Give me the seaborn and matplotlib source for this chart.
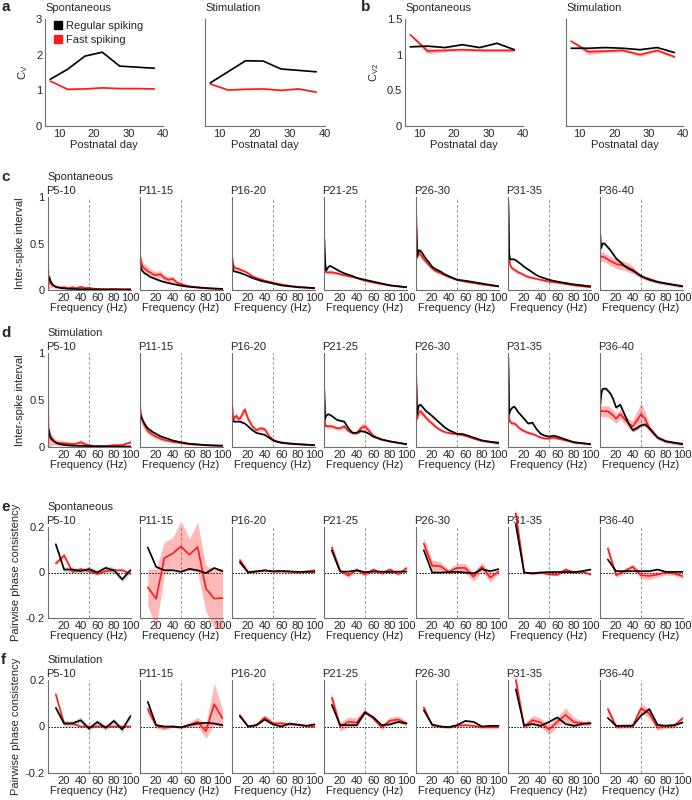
import numpy as np
import pandas as pd
import matplotlib
matplotlib.use("Agg")
import matplotlib.pyplot as plt
from matplotlib.lines import Line2D
import seaborn as sns

# ------------------------------------------------------------------ data
DAYS = [7.5, 12.5, 17.5, 22.5, 27.5, 32.5, 37.5]

CV_SPONT_RS = [1.31, 1.59, 1.96, 2.07, 1.68, 1.65, 1.62]
CV_SPONT_FS = [1.26, 1.03, 1.04, 1.07, 1.05, 1.05, 1.04]
CV_STIM_RS = [1.21, 1.52, 1.83, 1.82, 1.60, 1.56, 1.52]
CV_STIM_FS = [1.18, 1.01, 1.03, 1.04, 1.00, 1.04, 0.95]
CV_FS_SEM = [0.01, 0.03, 0.02, 0.02, 0.02, 0.02, 0.02]

CV2_SPONT_RS = [1.11, 1.12, 1.10, 1.14, 1.10, 1.16, 1.07]
CV2_SPONT_FS = [1.28, 1.05, 1.06, 1.07, 1.06, 1.06, 1.06]
CV2_STIM_RS = [1.09, 1.09, 1.10, 1.09, 1.07, 1.10, 1.03]
CV2_STIM_FS = [1.19, 1.04, 1.05, 1.06, 1.00, 1.06, 0.97]
CV2_FS_SEM = [0.01, 0.04, 0.02, 0.02, 0.02, 0.02, 0.02]

AGE_GROUPS = ["P5-10", "P11-15", "P16-20", "P21-25", "P26-30", "P31-35", "P36-40"]

ISI_FREQ = [1, 2, 3, 4, 6, 8, 10, 13, 16, 20, 25, 30, 35, 40, 45, 50, 55, 60, 70, 80, 90, 100]

ISI_SPONT_RS = [
    [0.12, 0.14, 0.11, 0.09, 0.06, 0.045, 0.035, 0.028, 0.022, 0.018, 0.014, 0.012, 0.01, 0.009, 0.008, 0.007, 0.006, 0.006, 0.005, 0.005, 0.004, 0.004],
    [0.27, 0.24, 0.21, 0.2, 0.18, 0.17, 0.16, 0.14, 0.13, 0.115, 0.1, 0.085, 0.075, 0.065, 0.055, 0.048, 0.04, 0.035, 0.027, 0.02, 0.015, 0.012],
    [0.27, 0.22, 0.2, 0.2, 0.195, 0.19, 0.185, 0.175, 0.165, 0.15, 0.13, 0.115, 0.1, 0.09, 0.08, 0.07, 0.06, 0.05, 0.04, 0.03, 0.025, 0.02],
    [0.55, 0.3, 0.21, 0.22, 0.25, 0.26, 0.25, 0.235, 0.22, 0.2, 0.18, 0.165, 0.15, 0.13, 0.12, 0.11, 0.1, 0.09, 0.07, 0.05, 0.04, 0.03],
    [0.68, 0.36, 0.4, 0.43, 0.42, 0.4, 0.37, 0.33, 0.3, 0.25, 0.22, 0.2, 0.17, 0.15, 0.13, 0.11, 0.105, 0.1, 0.085, 0.07, 0.055, 0.04],
    [0.95, 0.4, 0.33, 0.33, 0.33, 0.33, 0.32, 0.3, 0.28, 0.25, 0.22, 0.19, 0.16, 0.14, 0.125, 0.11, 0.1, 0.09, 0.075, 0.06, 0.05, 0.04],
    [0.6, 0.45, 0.48, 0.5, 0.5, 0.48, 0.46, 0.43, 0.39, 0.34, 0.3, 0.26, 0.23, 0.21, 0.18, 0.15, 0.13, 0.11, 0.085, 0.07, 0.055, 0.04],
]
ISI_SPONT_FS = [
    [0.06, 0.12, 0.09, 0.07, 0.05, 0.04, 0.035, 0.03, 0.025, 0.03, 0.02, 0.03, 0.02, 0.035, 0.02, 0.025, 0.015, 0.012, 0.01, 0.012, 0.01, 0.01],
    [0.35, 0.3, 0.27, 0.25, 0.23, 0.22, 0.2, 0.19, 0.17, 0.16, 0.17, 0.13, 0.11, 0.12, 0.08, 0.065, 0.05, 0.04, 0.03, 0.022, 0.016, 0.012],
    [0.35, 0.28, 0.25, 0.24, 0.23, 0.23, 0.22, 0.21, 0.2, 0.18, 0.15, 0.13, 0.115, 0.1, 0.09, 0.08, 0.07, 0.06, 0.045, 0.035, 0.028, 0.022],
    [0.45, 0.25, 0.19, 0.19, 0.19, 0.19, 0.19, 0.185, 0.18, 0.17, 0.16, 0.15, 0.14, 0.13, 0.115, 0.1, 0.09, 0.08, 0.065, 0.05, 0.04, 0.03],
    [0.8, 0.35, 0.38, 0.4, 0.38, 0.36, 0.33, 0.3, 0.27, 0.23, 0.2, 0.18, 0.16, 0.14, 0.125, 0.11, 0.1, 0.09, 0.075, 0.06, 0.05, 0.04],
    [0.9, 0.35, 0.28, 0.25, 0.23, 0.22, 0.21, 0.19, 0.18, 0.16, 0.14, 0.13, 0.12, 0.11, 0.1, 0.09, 0.085, 0.08, 0.065, 0.05, 0.04, 0.03],
    [0.35, 0.36, 0.36, 0.36, 0.35, 0.34, 0.33, 0.31, 0.3, 0.28, 0.27, 0.26, 0.24, 0.22, 0.18, 0.15, 0.13, 0.12, 0.09, 0.07, 0.055, 0.04],
]
ISI_SPONT_FS_SEM = [
    [0.15, 0.1, 0.06, 0.04, 0.03, 0.02, 0.02, 0.015, 0.015, 0.015, 0.01, 0.015, 0.01, 0.015, 0.01, 0.01, 0.008, 0.006, 0.005, 0.005, 0.005, 0.005],
    [0.07, 0.06, 0.06, 0.05, 0.05, 0.05, 0.05, 0.04, 0.04, 0.04, 0.04, 0.03, 0.03, 0.03, 0.02, 0.02, 0.015, 0.01, 0.01, 0.008, 0.006, 0.005],
    [0.03, 0.02, 0.02, 0.02, 0.02, 0.02, 0.02, 0.015, 0.015, 0.015, 0.01, 0.01, 0.01, 0.01, 0.01, 0.008, 0.008, 0.006, 0.005, 0.005, 0.004, 0.004],
    [0.05, 0.03, 0.02, 0.02, 0.02, 0.02, 0.02, 0.02, 0.015, 0.015, 0.015, 0.01, 0.01, 0.01, 0.01, 0.01, 0.008, 0.008, 0.006, 0.005, 0.005, 0.004],
    [0.08, 0.04, 0.03, 0.03, 0.03, 0.03, 0.025, 0.02, 0.02, 0.015, 0.015, 0.01, 0.01, 0.01, 0.01, 0.01, 0.008, 0.008, 0.006, 0.005, 0.005, 0.004],
    [0.05, 0.03, 0.02, 0.02, 0.02, 0.02, 0.02, 0.02, 0.015, 0.015, 0.015, 0.01, 0.01, 0.01, 0.01, 0.01, 0.008, 0.008, 0.006, 0.005, 0.005, 0.004],
    [0.05, 0.05, 0.05, 0.05, 0.05, 0.05, 0.05, 0.05, 0.05, 0.05, 0.05, 0.05, 0.05, 0.04, 0.03, 0.02, 0.02, 0.015, 0.01, 0.01, 0.008, 0.006],
]
ISI_SPONT_RS_SEM = [0.01, 0.008, 0.008, 0.01, 0.012, 0.012, 0.02]

ISI_STIM_RS = [
    [0.2, 0.16, 0.12, 0.1, 0.08, 0.06, 0.045, 0.035, 0.03, 0.022, 0.018, 0.015, 0.013, 0.012, 0.011, 0.01, 0.008, 0.007, 0.006, 0.005, 0.005, 0.005],
    [0.35, 0.32, 0.3, 0.28, 0.25, 0.22, 0.2, 0.18, 0.16, 0.14, 0.115, 0.1, 0.085, 0.07, 0.06, 0.05, 0.043, 0.035, 0.028, 0.02, 0.017, 0.015],
    [0.3, 0.28, 0.27, 0.27, 0.27, 0.27, 0.27, 0.26, 0.25, 0.22, 0.18, 0.15, 0.14, 0.13, 0.1, 0.07, 0.055, 0.045, 0.035, 0.03, 0.025, 0.02],
    [0.6, 0.3, 0.33, 0.34, 0.35, 0.34, 0.33, 0.31, 0.29, 0.28, 0.27, 0.2, 0.15, 0.15, 0.17, 0.16, 0.14, 0.11, 0.08, 0.06, 0.045, 0.03],
    [0.65, 0.35, 0.4, 0.44, 0.45, 0.43, 0.41, 0.38, 0.36, 0.33, 0.29, 0.25, 0.21, 0.18, 0.16, 0.14, 0.14, 0.13, 0.1, 0.07, 0.055, 0.04],
    [0.95, 0.35, 0.38, 0.4, 0.42, 0.43, 0.41, 0.37, 0.34, 0.3, 0.25, 0.26, 0.19, 0.14, 0.12, 0.11, 0.12, 0.11, 0.08, 0.05, 0.04, 0.03],
    [0.45, 0.55, 0.6, 0.62, 0.62, 0.62, 0.6, 0.57, 0.52, 0.42, 0.45, 0.35, 0.25, 0.18, 0.2, 0.23, 0.24, 0.2, 0.1, 0.06, 0.045, 0.03],
]
ISI_STIM_FS = [
    [0.15, 0.12, 0.1, 0.08, 0.07, 0.06, 0.05, 0.045, 0.04, 0.04, 0.035, 0.03, 0.035, 0.05, 0.03, 0.02, 0.012, 0.01, 0.01, 0.02, 0.02, 0.05],
    [0.4, 0.33, 0.3, 0.27, 0.23, 0.2, 0.17, 0.15, 0.13, 0.11, 0.09, 0.075, 0.065, 0.055, 0.048, 0.042, 0.036, 0.03, 0.025, 0.02, 0.015, 0.012],
    [0.43, 0.32, 0.3, 0.32, 0.33, 0.3, 0.3, 0.35, 0.4, 0.3, 0.22, 0.18, 0.2, 0.19, 0.12, 0.08, 0.06, 0.05, 0.04, 0.03, 0.025, 0.02],
    [0.5, 0.25, 0.22, 0.22, 0.22, 0.22, 0.22, 0.21, 0.2, 0.2, 0.22, 0.17, 0.15, 0.15, 0.2, 0.22, 0.17, 0.12, 0.08, 0.06, 0.045, 0.03],
    [0.75, 0.3, 0.33, 0.37, 0.38, 0.36, 0.34, 0.31, 0.28, 0.25, 0.21, 0.18, 0.16, 0.15, 0.14, 0.14, 0.13, 0.12, 0.09, 0.065, 0.055, 0.05],
    [0.85, 0.3, 0.27, 0.26, 0.25, 0.25, 0.24, 0.21, 0.19, 0.17, 0.15, 0.14, 0.12, 0.1, 0.09, 0.09, 0.1, 0.09, 0.07, 0.05, 0.04, 0.03],
    [0.4, 0.38, 0.38, 0.38, 0.38, 0.38, 0.38, 0.36, 0.34, 0.3, 0.35, 0.3, 0.25, 0.22, 0.28, 0.35, 0.3, 0.2, 0.1, 0.06, 0.045, 0.035],
]
ISI_STIM_FS_SEM = [
    [0.35, 0.15, 0.1, 0.07, 0.05, 0.04, 0.03, 0.03, 0.03, 0.02, 0.02, 0.02, 0.02, 0.03, 0.02, 0.015, 0.01, 0.008, 0.008, 0.01, 0.01, 0.02],
    [0.08, 0.06, 0.05, 0.05, 0.04, 0.04, 0.03, 0.03, 0.025, 0.02, 0.02, 0.015, 0.01, 0.01, 0.01, 0.008, 0.008, 0.006, 0.005, 0.005, 0.004, 0.004],
    [0.04, 0.03, 0.03, 0.03, 0.03, 0.03, 0.03, 0.03, 0.03, 0.03, 0.02, 0.02, 0.02, 0.02, 0.015, 0.01, 0.008, 0.006, 0.005, 0.005, 0.004, 0.004],
    [0.05, 0.02, 0.02, 0.02, 0.02, 0.02, 0.02, 0.02, 0.02, 0.02, 0.02, 0.02, 0.02, 0.02, 0.04, 0.04, 0.03, 0.015, 0.01, 0.008, 0.006, 0.005],
    [0.08, 0.03, 0.03, 0.03, 0.03, 0.03, 0.03, 0.02, 0.02, 0.02, 0.015, 0.015, 0.01, 0.01, 0.01, 0.01, 0.01, 0.008, 0.008, 0.006, 0.005, 0.005],
    [0.06, 0.03, 0.02, 0.02, 0.02, 0.02, 0.02, 0.02, 0.02, 0.015, 0.015, 0.015, 0.01, 0.01, 0.01, 0.01, 0.01, 0.008, 0.008, 0.006, 0.005, 0.005],
    [0.06, 0.06, 0.06, 0.06, 0.06, 0.06, 0.06, 0.06, 0.06, 0.05, 0.05, 0.05, 0.05, 0.06, 0.1, 0.12, 0.08, 0.04, 0.02, 0.01, 0.008, 0.006],
]
ISI_STIM_RS_SEM = [0.01, 0.01, 0.01, 0.012, 0.015, 0.015, 0.02]

PPC_FREQ = [10, 20, 30, 40, 50, 60, 70, 80, 90, 100]

PPC_SPONT_RS = [
    [0.124, 0.013, 0.013, 0.006, 0.015, 0.0, 0.02, 0.01, -0.03, 0.01],
    [0.11, 0.025, 0.01, 0.01, 0.003, 0.016, 0.01, -0.003, 0.02, 0.006],
    [0.045, 0.0, 0.005, 0.01, 0.005, 0.007, 0.005, 0.003, 0.003, 0.003],
    [0.097, 0.004, 0.004, 0.009, 0.002, 0.004, 0.004, 0.002, 0.004, 0.004],
    [0.098, 0.0, 0.0, 0.002, 0.003, 0.0, -0.004, 0.015, 0.006, 0.015],
    [0.21, 0.0, -0.004, 0.0, 0.002, 0.002, 0.002, 0.002, 0.006, 0.013],
    [0.057, 0.006, 0.006, 0.006, 0.006, 0.006, 0.013, 0.003, 0.003, 0.003],
]
PPC_SPONT_FS = [
    [0.04, 0.075, 0.003, 0.015, 0.006, -0.006, 0.006, 0.01, 0.01, -0.005],
    [-0.065, -0.115, 0.064, 0.083, 0.115, 0.078, 0.112, -0.07, -0.115, -0.112],
    [0.055, 0.003, 0.005, 0.008, 0.005, 0.005, 0.003, 0.0, 0.005, 0.01],
    [0.11, 0.009, -0.013, 0.013, -0.009, 0.013, -0.003, 0.013, -0.006, 0.019],
    [0.127, 0.03, 0.028, 0.003, 0.02, 0.02, -0.019, 0.025, -0.022, 0.003],
    [0.26, 0.0, -0.003, 0.0, -0.008, -0.01, 0.013, 0.0, 0.003, -0.008],
    [0.105, -0.012, 0.006, 0.025, -0.012, -0.015, -0.009, 0.0, -0.004, -0.016],
]
PPC_SPONT_FS_SEM = [
    [0.01, 0.01, 0.005, 0.005, 0.005, 0.005, 0.005, 0.005, 0.005, 0.005],
    [0.08, 0.13, 0.07, 0.07, 0.11, 0.07, 0.11, 0.1, 0.13, 0.13],
    [0.01, 0.005, 0.005, 0.005, 0.005, 0.005, 0.005, 0.005, 0.005, 0.005],
    [0.015, 0.008, 0.01, 0.008, 0.01, 0.008, 0.008, 0.008, 0.008, 0.008],
    [0.025, 0.025, 0.02, 0.01, 0.02, 0.02, 0.02, 0.02, 0.02, 0.01],
    [0.03, 0.005, 0.005, 0.005, 0.005, 0.005, 0.008, 0.005, 0.005, 0.005],
    [0.02, 0.01, 0.01, 0.012, 0.015, 0.015, 0.012, 0.01, 0.01, 0.01],
]
PPC_SPONT_RS_SEM = [0.012, 0.004, 0.003, 0.003, 0.004, 0.004, 0.004]

PPC_STIM_RS = [
    [0.08, 0.013, 0.013, 0.027, -0.009, 0.019, -0.006, 0.024, -0.013, 0.045],
    [0.106, 0.006, 0.0, 0.0, -0.004, 0.006, 0.013, 0.016, 0.013, 0.006],
    [0.045, 0.0, 0.006, 0.03, 0.009, 0.0, 0.013, 0.007, 0.003, 0.009],
    [0.093, 0.006, 0.006, 0.006, 0.06, 0.04, 0.006, 0.009, 0.02, 0.013],
    [0.07, 0.009, 0.0, -0.003, 0.006, 0.024, 0.02, 0.0, 0.003, 0.003],
    [0.16, 0.004, 0.011, 0.003, 0.02, 0.039, 0.011, 0.003, 0.011, 0.014],
    [0.037, 0.003, 0.003, 0.003, 0.047, 0.075, 0.007, 0.003, 0.006, 0.017],
]
PPC_STIM_FS = [
    [0.138, 0.013, 0.013, 0.0, 0.0, 0.0, 0.0, 0.0, 0.0, 0.0],
    [0.075, 0.003, -0.006, 0.0, -0.003, 0.007, 0.02, -0.02, 0.096, 0.035],
    [0.049, 0.0, 0.006, 0.039, 0.013, 0.013, 0.009, 0.009, 0.003, 0.0],
    [0.124, 0.0, 0.02, 0.017, 0.064, 0.035, -0.003, 0.025, 0.03, 0.013],
    [0.082, 0.004, 0.0, -0.003, 0.003, 0.006, 0.003, -0.003, -0.003, -0.003],
    [0.2, 0.0, 0.027, 0.017, -0.013, 0.02, 0.05, 0.019, 0.014, 0.014],
    [0.075, 0.0, 0.003, 0.003, 0.078, 0.056, -0.006, 0.003, 0.003, 0.035],
]
PPC_STIM_FS_SEM = [
    [0.008, 0.005, 0.005, 0.003, 0.003, 0.003, 0.003, 0.003, 0.003, 0.003],
    [0.02, 0.01, 0.01, 0.005, 0.005, 0.01, 0.02, 0.03, 0.09, 0.04],
    [0.01, 0.005, 0.005, 0.01, 0.01, 0.01, 0.005, 0.005, 0.005, 0.005],
    [0.02, 0.02, 0.02, 0.02, 0.01, 0.01, 0.01, 0.015, 0.015, 0.01],
    [0.012, 0.005, 0.005, 0.005, 0.005, 0.005, 0.005, 0.005, 0.005, 0.005],
    [0.03, 0.01, 0.02, 0.02, 0.02, 0.02, 0.03, 0.02, 0.01, 0.01],
    [0.015, 0.01, 0.01, 0.01, 0.02, 0.02, 0.01, 0.01, 0.01, 0.01],
]
PPC_STIM_RS_SEM = [0.012, 0.004, 0.004, 0.004, 0.004, 0.005, 0.005]

# ------------------------------------------------------------------ style
sns.set_theme(style="white", rc={"axes.linewidth": 0.8})
plt.rcParams["font.family"] = ["Liberation Sans", "DejaVu Sans"]
plt.rcParams["font.size"] = 8
plt.rcParams["mathtext.fontset"] = "custom"
plt.rcParams["mathtext.rm"] = "Liberation Sans"

RS_COLOR = "black"
FS_COLOR = "#ff1a1a"
RS_BAND = (0.0, 0.0, 0.0, 0.18)
FS_BAND = (1.0, 0.0, 0.0, 0.28)
SPINE = "#6e6e6e"

W, H = 692, 800
fig = plt.figure(figsize=(W / 100, H / 100), dpi=100)


def px_axes(x0, x1, y_top, y_bot):
    return fig.add_axes([x0 / W, 1 - y_bot / H, (x1 - x0) / W, (y_bot - y_top) / H])


def px_text(x, y, s, **kw):
    kw.setdefault("va", "center")
    kw.setdefault("ha", "left")
    fig.text(x / W, 1 - y / H, s, **kw)


def style_axes(ax, show_y):
    sns.despine(ax=ax)
    for side in ["left", "bottom"]:
        ax.spines[side].set_color(SPINE)
        ax.spines[side].set_linewidth(0.8)
    ax.tick_params(direction="in", length=2.5, width=0.6, color=SPINE,
                   labelsize=8, pad=2, labelleft=show_y)
    ax.set_xlabel("")
    ax.set_ylabel("")


def draw_pair(ax, x, rs, fs, rs_sem, fs_sem, clip=True):
    x = np.asarray(x, float)
    rs, fs = np.asarray(rs, float), np.asarray(fs, float)
    rs_sem = np.broadcast_to(np.asarray(rs_sem, float), rs.shape)
    fs_sem = np.broadcast_to(np.asarray(fs_sem, float), fs.shape)
    ax.fill_between(x, fs - fs_sem, fs + fs_sem, color=FS_BAND, lw=0, clip_on=clip)
    ax.fill_between(x, rs - rs_sem, rs + rs_sem, color=RS_BAND, lw=0, clip_on=clip)
    df = pd.DataFrame({
        "x": np.concatenate([x, x]),
        "y": np.concatenate([fs, rs]),
        "type": ["Fast spiking"] * len(x) + ["Regular spiking"] * len(x),
    })
    sns.lineplot(data=df, x="x", y="y", hue="type",
                 hue_order=["Fast spiking", "Regular spiking"],
                 palette={"Fast spiking": FS_COLOR, "Regular spiking": RS_COLOR},
                 lw=1.2, legend=False, ax=ax, clip_on=clip, sort=False)


# ------------------------------------------------------------------ a, b
ab_boxes = [(45, 163), (205, 325), (405, 523), (566, 683)]
ab_data = [
    (CV_SPONT_RS, CV_SPONT_FS, CV_FS_SEM),
    (CV_STIM_RS, CV_STIM_FS, CV_FS_SEM),
    (CV2_SPONT_RS, CV2_SPONT_FS, CV2_FS_SEM),
    (CV2_STIM_RS, CV2_STIM_FS, CV2_FS_SEM),
]
for i, ((x0, x1), (rs, fs, sem)) in enumerate(zip(ab_boxes, ab_data)):
    ax = px_axes(x0, x1, 19, 126)
    draw_pair(ax, DAYS, rs, fs, 0.01, sem)
    ax.set_xlim(6, 40)
    ax.set_xticks([10, 20, 30, 40])
    if i < 2:
        ax.set_ylim(0, 3)
        ax.set_yticks([0, 1, 2, 3])
    else:
        ax.set_ylim(0, 1.5)
        ax.set_yticks([0, 0.5, 1, 1.5])
        ax.set_yticklabels(["0", "0.5", "1", "1.5"])
    style_axes(ax, show_y=(i % 2 == 0))
    ax.set_xlabel("Postnatal day", fontsize=8, labelpad=1)
    if i == 0:
        ax.set_ylabel("C$_\\mathrm{V}$", fontsize=8, labelpad=4)
        handles = [Line2D([], [], ls="", marker="s", ms=6, color=RS_COLOR),
                   Line2D([], [], ls="", marker="s", ms=6, color=FS_COLOR)]
        ax.legend(handles, ["Regular spiking", "Fast spiking"], loc="upper left",
                  bbox_to_anchor=(0.02, 1.04), frameon=False, fontsize=8,
                  handlelength=0.8, handletextpad=0.3, labelspacing=0.3,
                  borderaxespad=0.2)
    if i == 2:
        ax.set_ylabel("C$_\\mathrm{V2}$", fontsize=8, labelpad=4)
    px_text(x0, 8, "Spontaneous" if i % 2 == 0 else "Stimulation", fontsize=8)

px_text(1, 7, "a", fontsize=11, fontweight="bold")
px_text(361, 7, "b", fontsize=11, fontweight="bold")

# ------------------------------------------------------------------ c - f
LEFT0, STEP, PW = 47.5, 92, 83
rows = [
    ("c", "Spontaneous", 197, 290, ISI_FREQ, ISI_SPONT_RS, ISI_SPONT_FS, ISI_SPONT_RS_SEM, ISI_SPONT_FS_SEM, "isi"),
    ("d", "Stimulation", 353, 447, ISI_FREQ, ISI_STIM_RS, ISI_STIM_FS, ISI_STIM_RS_SEM, ISI_STIM_FS_SEM, "isi"),
    ("e", "Spontaneous", 527, 618, PPC_FREQ, PPC_SPONT_RS, PPC_SPONT_FS, PPC_SPONT_RS_SEM, PPC_SPONT_FS_SEM, "ppc"),
    ("f", "Stimulation", 680, 773, PPC_FREQ, PPC_STIM_RS, PPC_STIM_FS, PPC_STIM_RS_SEM, PPC_STIM_FS_SEM, "ppc"),
]
for letter, cond, top, bot, freq, rs_all, fs_all, rs_sem_all, fs_sem_all, kind in rows:
    px_text(1, top - 20, letter, fontsize=11, fontweight="bold")
    px_text(LEFT0, top - 20, cond, fontsize=8)
    for j, group in enumerate(AGE_GROUPS):
        x0 = LEFT0 + j * STEP
        ax = px_axes(x0, x0 + PW, top, bot)
        ax.axvline(50, color="#9a9a9a", lw=0.7, ls=(0, (3, 2)), zorder=0)
        if kind == "ppc":
            ax.axhline(0, color="black", lw=0.7, ls=(0, (1.5, 1.5)), zorder=0)
        draw_pair(ax, freq, rs_all[j], fs_all[j], rs_sem_all[j], fs_sem_all[j],
                  clip=(kind == "isi"))
        ax.set_xlim(0, 100)
        ax.set_xticks([20, 40, 60, 80, 100])
        if kind == "isi":
            ax.set_ylim(0, 1)
            ax.set_yticks([0, 0.5, 1])
            ax.set_yticklabels(["0", "0.5", "1"])
        else:
            ax.set_ylim(-0.2, 0.2)
            ax.set_yticks([-0.2, 0, 0.2])
            ax.set_yticklabels(["-0.2", "0", "0.2"])
        style_axes(ax, show_y=(j == 0))
        ax.set_xlabel("Frequency (Hz)", fontsize=8, labelpad=0)
        if j == 0:
            ax.set_ylabel("Inter-spike interval" if kind == "isi" else "Pairwise phase consistency",
                          fontsize=8, labelpad=3)
        px_text(x0 - 1, top - 6, group, fontsize=8)

fig.savefig("out.png", dpi=100)
